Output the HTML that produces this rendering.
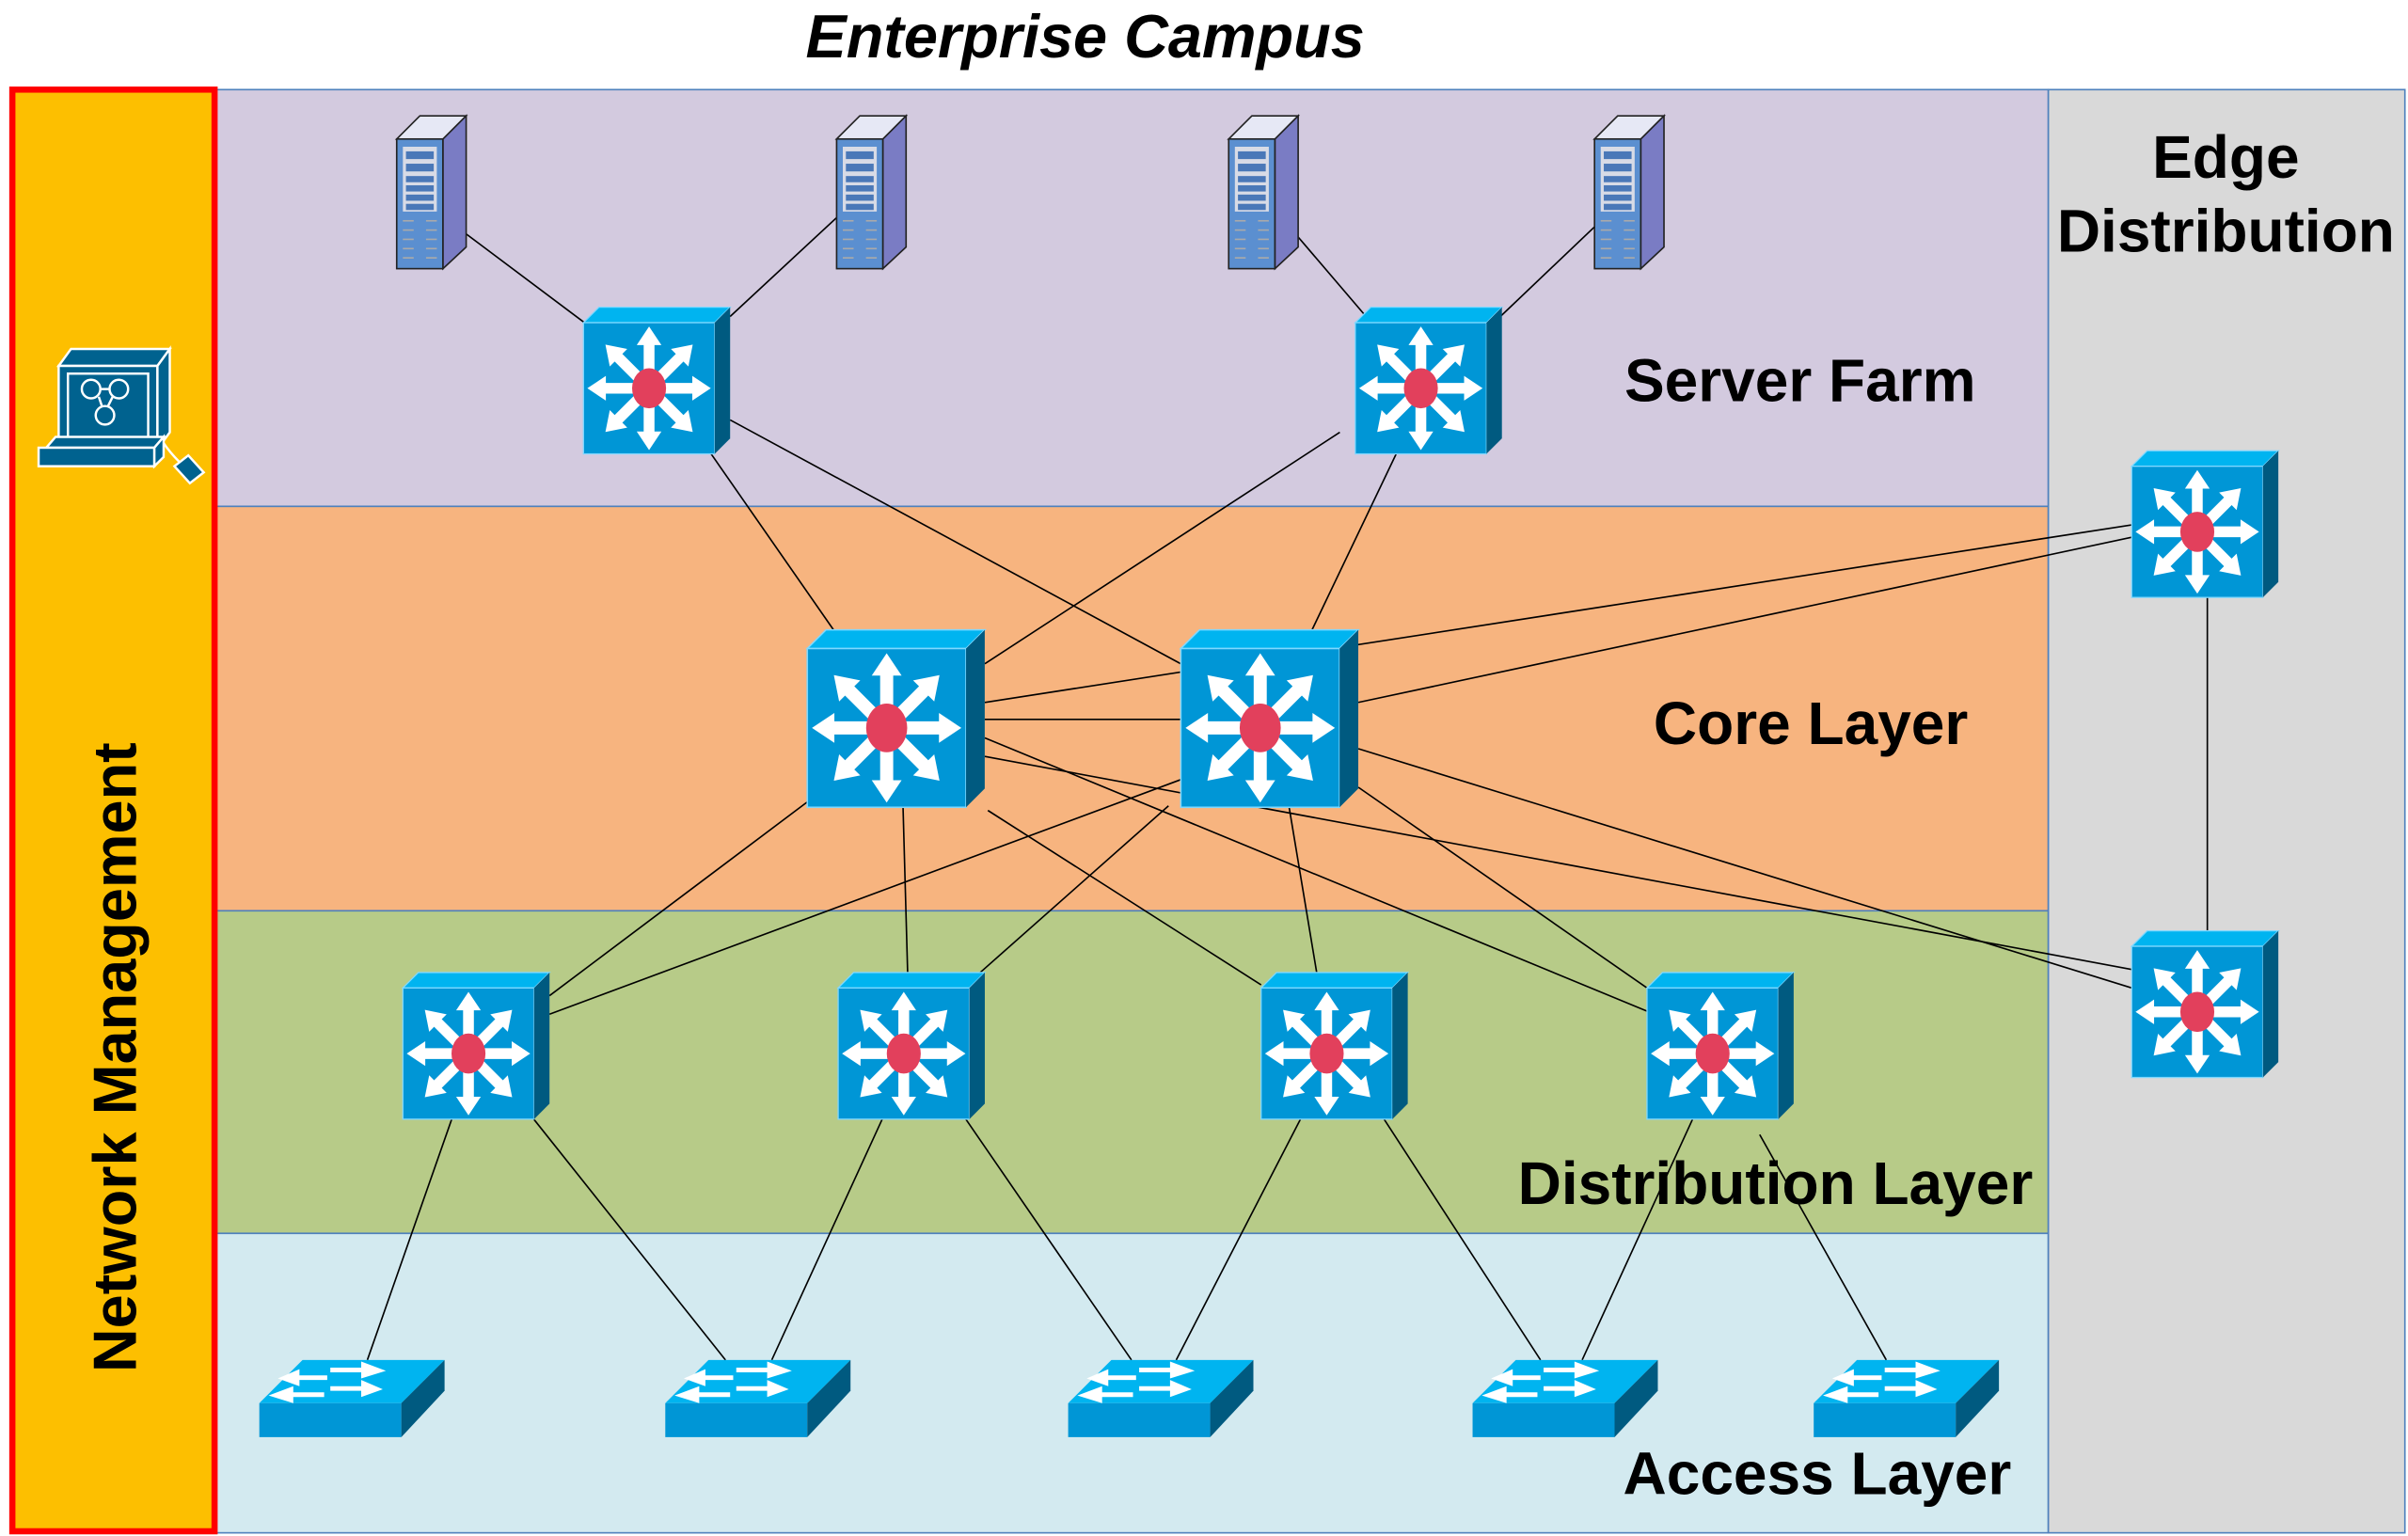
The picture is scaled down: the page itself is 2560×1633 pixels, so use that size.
<!DOCTYPE html>
<html><head><meta charset="utf-8"><style>
html,body{margin:0;padding:0;background:#fff;}
svg{display:block;}
text{font-family:"Liberation Sans",sans-serif;font-weight:bold;fill:#000;}
</style></head><body>
<svg width="2560" height="1633" viewBox="0 0 1560 995" xmlns="http://www.w3.org/2000/svg">
<defs>
<g id="arr">
<polygon points="0,-3.5 28,-3.5 28,-8 40,0 28,8 28,3.5 0,3.5" fill="#fff"/>
</g>
<g id="l3">
<polygon points="0,10 10,0 95,0 85,10" fill="#00B4F0" stroke="#7fd8ff" stroke-width="0.8"/>
<rect x="0" y="10" width="85" height="85" fill="#0096D6" stroke="#7fd8ff" stroke-width="0.8"/>
<polygon points="85,10 95,0 95,85 85,95" fill="#005A80"/>
<g transform="translate(42.5,52.5)">
<use href="#arr"/><use href="#arr" transform="rotate(45)"/><use href="#arr" transform="rotate(90)"/><use href="#arr" transform="rotate(135)"/><use href="#arr" transform="rotate(180)"/><use href="#arr" transform="rotate(225)"/><use href="#arr" transform="rotate(270)"/><use href="#arr" transform="rotate(315)"/>
<ellipse rx="11" ry="13" fill="#E2405C"/>
</g>
</g>
<g id="acc">
<polygon points="0,28 28,0 120,0 92,28" fill="#00B4F0"/>
<rect x="0" y="28" width="92" height="22" fill="#0096D6"/>
<polygon points="92,28 120,0 120,20 92,50" fill="#005A80"/>
<polygon points="46,5 66,5 66,1 82,7 66,12 66,8 46,8" fill="#fff"/>
<polygon points="44,10 26,10 26,6 12,12 26,17 26,13 44,13" fill="#fff"/>
<polygon points="46,17 66,17 66,13 80,19 66,24 66,20 46,20" fill="#fff"/>
<polygon points="42,21 22,21 22,17 6,23 22,28 22,24 42,24" fill="#fff"/>
</g>
<g id="srv">
<polygon points="0,15 15,0 45,0 30,15" fill="#e6e8f5" stroke="#222" stroke-width="1"/>
<rect x="0" y="15" width="30" height="84" fill="#5b8fd0" stroke="#222" stroke-width="1"/>
<polygon points="30,15 45,0 45,85 30,99" fill="#7a7cc4" stroke="#222" stroke-width="1"/>
<rect x="4" y="20" width="22" height="42" fill="#d8dbe6"/>
<rect x="6" y="23" width="18" height="5" fill="#4a78b8"/>
<rect x="6" y="31" width="18" height="5" fill="#4a78b8"/>
<rect x="6" y="39" width="18" height="4" fill="#4a78b8"/>
<rect x="6" y="45" width="18" height="4" fill="#4a78b8"/>
<rect x="6" y="51" width="18" height="4" fill="#4a78b8"/>
<rect x="6" y="57" width="18" height="4" fill="#4a78b8"/>
<g stroke="#aaa" stroke-width="1"><line x1="4" y1="68" x2="11" y2="68"/><line x1="4" y1="74" x2="11" y2="74"/><line x1="4" y1="80" x2="11" y2="80"/><line x1="4" y1="86" x2="11" y2="86"/><line x1="4" y1="92" x2="11" y2="92"/><line x1="19" y1="68" x2="26" y2="68"/><line x1="19" y1="74" x2="26" y2="74"/><line x1="19" y1="80" x2="26" y2="80"/><line x1="19" y1="86" x2="26" y2="86"/><line x1="19" y1="92" x2="26" y2="92"/></g>
</g>
</defs>

<text x="703" y="37" font-size="39.5" font-style="italic" text-anchor="middle">Enterprise Campus</text>

<g stroke="#4F81BD" stroke-width="1">
<rect x="140" y="58" width="1187" height="270" fill="#D3CADF"/>
<rect x="140" y="328" width="1187" height="262" fill="#F7B47F"/>
<rect x="140" y="590" width="1187" height="209" fill="#B7CB88"/>
<rect x="140" y="799" width="1187" height="194" fill="#D3EAF0"/>
<rect x="1327" y="58" width="231" height="935" fill="#D9D9D9"/>
</g>
<rect x="8" y="58" width="131" height="934" fill="#FDBF00" stroke="#FF0000" stroke-width="4"/>
<text transform="translate(88,685) rotate(-90)" font-size="39.5" text-anchor="middle">Network Management</text>

<g stroke="#fff" stroke-width="1.5" fill="#00628F">
<polygon points="38,237 46,226 110,226 102,237"/>
<rect x="38" y="237" width="64" height="54"/>
<polygon points="102,237 110,226 110,280 102,291"/>
<rect x="44" y="242" width="52" height="42"/>
<polygon points="30,290 36,283 106,283 100,290"/>
<rect x="25" y="290" width="75" height="12"/>
<polygon points="100,290 106,283 106,296 100,302"/>
<polygon points="113,302 122,295 132,306 123,313"/>
</g>
<g fill="none" stroke="#fff" stroke-width="1.5"><circle cx="59" cy="252" r="6"/><circle cx="77" cy="252" r="6"/><circle cx="68" cy="269" r="6"/><line x1="64" y1="257" x2="66" y2="263"/><line x1="73" y1="257" x2="70" y2="263"/><line x1="65" y1="252" x2="71" y2="252"/><path d="M106,287 q4,6 10,12"/></g>

<g stroke="#000" stroke-width="1" fill="none">
<line x1="300" y1="150" x2="380" y2="210"/>
<line x1="543" y1="140" x2="473" y2="205"/>
<line x1="838" y1="150" x2="885" y2="205"/>
<line x1="1035" y1="145" x2="972" y2="205"/>
<line x1="460" y1="293" x2="540" y2="408"/>
<line x1="473" y1="272" x2="765" y2="430"/>
<line x1="868" y1="280" x2="638" y2="430"/>
<line x1="905" y1="293" x2="850" y2="408"/>
<line x1="638" y1="466" x2="765" y2="466"/>
<line x1="638" y1="455" x2="1381" y2="340"/>
<line x1="880" y1="455" x2="1381" y2="348"/>
<line x1="638" y1="490" x2="1381" y2="628"/>
<line x1="880" y1="485" x2="1381" y2="640"/>
<line x1="1430" y1="386" x2="1430" y2="603"/>
<line x1="525" y1="518" x2="356" y2="645"/>
<line x1="585" y1="522" x2="588" y2="630"/>
<line x1="640" y1="525" x2="817" y2="638"/>
<line x1="638" y1="478" x2="1067" y2="655"/>
<line x1="765" y1="505" x2="356" y2="657"/>
<line x1="757" y1="522" x2="635" y2="630"/>
<line x1="835" y1="522" x2="853" y2="630"/>
<line x1="880" y1="510" x2="1067" y2="640"/>
<line x1="293" y1="724" x2="238" y2="881"/>
<line x1="345" y1="724" x2="470" y2="881"/>
<line x1="572" y1="724" x2="500" y2="881"/>
<line x1="625" y1="724" x2="733" y2="881"/>
<line x1="843" y1="724" x2="762" y2="881"/>
<line x1="896" y1="724" x2="998" y2="881"/>
<line x1="1097" y1="724" x2="1025" y2="881"/>
<line x1="1140" y1="735" x2="1222" y2="881"/>
</g>

<use href="#srv" x="257" y="75"/>
<use href="#srv" x="542" y="75"/>
<use href="#srv" x="796" y="75"/>
<use href="#srv" x="1033" y="75"/>

<use href="#l3" x="378" y="199"/>
<use href="#l3" x="878" y="199"/>
<use href="#l3" transform="translate(523,408) scale(1.21)"/>
<use href="#l3" transform="translate(765,408) scale(1.21)"/>
<use href="#l3" x="1381" y="292"/>
<use href="#l3" x="1381" y="603"/>
<use href="#l3" x="261" y="630"/>
<use href="#l3" x="543" y="630"/>
<use href="#l3" x="817" y="630"/>
<use href="#l3" x="1067" y="630"/>

<use href="#acc" x="168" y="881"/>
<use href="#acc" x="431" y="881"/>
<use href="#acc" x="692" y="881"/>
<use href="#acc" x="954" y="881"/>
<use href="#acc" x="1175" y="881"/>

<text x="1280" y="260" font-size="39" text-anchor="end">Server Farm</text>
<text x="1275" y="482" font-size="39" text-anchor="end">Core Layer</text>
<text x="1317" y="780" font-size="39" text-anchor="end">Distribution Layer</text>
<text x="1303" y="968" font-size="39" text-anchor="end">Access Layer</text>
<text x="1442" y="115" font-size="39" text-anchor="middle">Edge</text>
<text x="1442" y="163" font-size="39" text-anchor="middle">Distribution</text>
</svg>
</body></html>
